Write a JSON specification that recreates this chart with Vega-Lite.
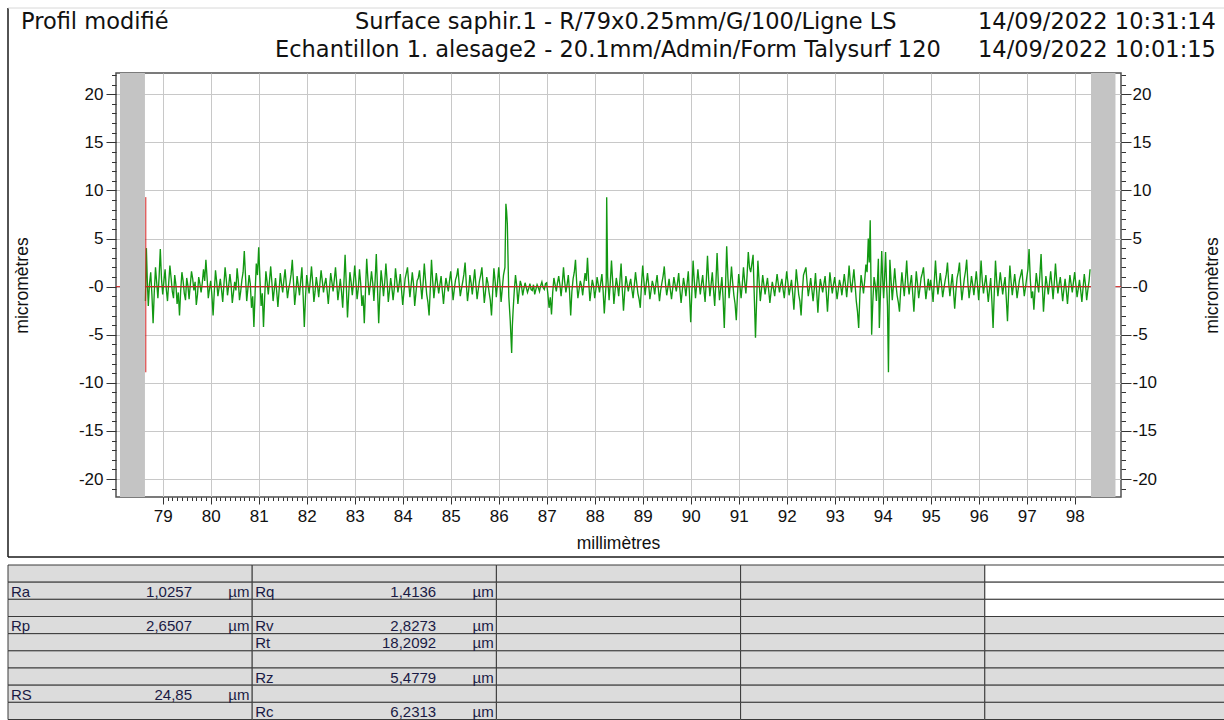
{
 "$schema": "https://vega.github.io/schema/vega-lite/v6.json",
 "width": 1005, "height": 424,
 "autosize": {"type": "none"},
 "padding": {"left": 116, "top": 73, "right": 103, "bottom": 223},
 "background": "white",
 "config": {
  "view": {"stroke": "#505050", "strokeWidth": 1.5},
  "font": "Liberation Sans",
  "axis": {"labelFont": "Liberation Sans", "titleFont": "Liberation Sans", "labelColor": "#111111", "titleColor": "#111111", "tickColor": "#333333", "titleFontWeight": "normal", "domain": false}
 },
 "datasets": {
  "profile": [
   {"x":78.64,"y":-1.5},{"x":78.66,"y":4.0},{"x":78.68,"y":0.5},{"x":78.70,"y":-2.0},{"x":78.725,"y":0.3},{"x":78.75,"y":1.5},{"x":78.775,"y":-0.8},{"x":78.80,"y":-3.8},{"x":78.825,"y":-0.5},{"x":78.85,"y":2.0},{"x":78.875,"y":0.4},{"x":78.90,"y":-1.2},{"x":78.925,"y":1.0},{"x":78.95,"y":3.9},{"x":78.975,"y":0.8},
   {"x":79.00,"y":-0.8},{"x":79.025,"y":0.6},{"x":79.05,"y":1.8},{"x":79.075,"y":-0.3},{"x":79.10,"y":-1.5},{"x":79.125,"y":0.4},{"x":79.15,"y":2.2},{"x":79.175,"y":0.9},{"x":79.20,"y":-0.5},{"x":79.225,"y":-1.2},{"x":79.25,"y":1.2},{"x":79.275,"y":0.2},{"x":79.30,"y":-1.8},{"x":79.325,"y":-0.6},{"x":79.35,"y":-3.0},{"x":79.375,"y":-0.4},{"x":79.40,"y":1.5},{"x":79.425,"y":0.6},{"x":79.45,"y":-0.7},{"x":79.475,"y":-1.4},{"x":79.50,"y":0.9},{"x":79.525,"y":0.1},{"x":79.55,"y":-1.3},{"x":79.575,"y":0.2},{"x":79.60,"y":1.6},{"x":79.625,"y":0.8},{"x":79.65,"y":-0.4},{"x":79.675,"y":0.5},{"x":79.70,"y":-1.9},{"x":79.725,"y":-0.8},{"x":79.75,"y":1.0},{"x":79.775,"y":0.3},{"x":79.80,"y":-0.6},{"x":79.825,"y":0.4},{"x":79.85,"y":1.8},{"x":79.875,"y":0.6},{"x":79.90,"y":2.8},{"x":79.925,"y":0.9},{"x":79.95,"y":-1.2},{"x":79.975,"y":-0.2},
   {"x":80.00,"y":0.6},{"x":80.025,"y":-0.9},{"x":80.05,"y":-3.0},{"x":80.075,"y":-0.5},{"x":80.10,"y":1.7},{"x":80.125,"y":0.5},{"x":80.15,"y":-1.0},{"x":80.175,"y":-0.1},{"x":80.20,"y":0.8},{"x":80.225,"y":-0.3},{"x":80.25,"y":-1.6},{"x":80.275,"y":0.2},{"x":80.30,"y":2.0},{"x":80.325,"y":0.7},{"x":80.35,"y":-0.9},{"x":80.375,"y":0.1},{"x":80.40,"y":1.3},{"x":80.425,"y":0.2},{"x":80.45,"y":-1.7},{"x":80.475,"y":-0.6},{"x":80.50,"y":0.5},{"x":80.525,"y":-0.4},{"x":80.55,"y":1.9},{"x":80.575,"y":0.6},{"x":80.60,"y":-1.4},{"x":80.625,"y":-0.5},{"x":80.65,"y":0.7},{"x":80.675,"y":1.5},{"x":80.70,"y":3.7},{"x":80.725,"y":1.1},{"x":80.75,"y":-1.5},{"x":80.775,"y":-0.2},{"x":80.80,"y":1.2},{"x":80.825,"y":0.3},{"x":80.85,"y":-2.2},{"x":80.875,"y":-1.0},{"x":80.90,"y":-4.2},{"x":80.925,"y":-0.6},{"x":80.95,"y":2.4},{"x":80.975,"y":1.2},
   {"x":81.00,"y":4.1},{"x":81.025,"y":0.9},{"x":81.05,"y":-2.0},{"x":81.075,"y":-0.7},{"x":81.10,"y":-4.2},{"x":81.125,"y":-1.0},{"x":81.15,"y":1.6},{"x":81.175,"y":0.5},{"x":81.20,"y":-0.8},{"x":81.225,"y":0.6},{"x":81.25,"y":2.1},{"x":81.275,"y":0.4},{"x":81.30,"y":-1.5},{"x":81.325,"y":-0.3},{"x":81.35,"y":0.9},{"x":81.375,"y":-0.5},{"x":81.40,"y":-2.1},{"x":81.425,"y":-0.4},{"x":81.45,"y":1.4},{"x":81.475,"y":0.3},{"x":81.50,"y":-0.6},{"x":81.525,"y":0.7},{"x":81.55,"y":1.8},{"x":81.575,"y":0.2},{"x":81.60,"y":-1.2},{"x":81.625,"y":-0.2},{"x":81.65,"y":0.4},{"x":81.675,"y":1.3},{"x":81.70,"y":2.8},{"x":81.725,"y":0.5},{"x":81.75,"y":-1.9},{"x":81.775,"y":-0.6},{"x":81.80,"y":1.1},{"x":81.825,"y":0.1},{"x":81.85,"y":-0.9},{"x":81.875,"y":0.6},{"x":81.90,"y":2.0},{"x":81.925,"y":-0.8},{"x":81.95,"y":-4.2},{"x":81.975,"y":-1.1},
   {"x":82.00,"y":1.2},{"x":82.025,"y":0.2},{"x":82.05,"y":-0.7},{"x":82.075,"y":0.6},{"x":82.10,"y":2.1},{"x":82.125,"y":0.4},{"x":82.15,"y":-1.6},{"x":82.175,"y":-0.5},{"x":82.20,"y":1.0},{"x":82.225,"y":0.1},{"x":82.25,"y":-1.1},{"x":82.275,"y":0.3},{"x":82.30,"y":1.7},{"x":82.325,"y":0.6},{"x":82.35,"y":-0.6},{"x":82.375,"y":0.3},{"x":82.40,"y":0.9},{"x":82.425,"y":-0.4},{"x":82.45,"y":-1.8},{"x":82.475,"y":-0.2},{"x":82.50,"y":1.4},{"x":82.525,"y":0.5},{"x":82.55,"y":-0.5},{"x":82.575,"y":0.7},{"x":82.60,"y":2.0},{"x":82.625,"y":0.4},{"x":82.65,"y":-1.4},{"x":82.675,"y":-0.3},{"x":82.70,"y":0.8},{"x":82.725,"y":-0.5},{"x":82.75,"y":-2.2},{"x":82.775,"y":0.4},{"x":82.80,"y":3.3},{"x":82.825,"y":0.2},{"x":82.85,"y":-3.2},{"x":82.875,"y":-0.8},{"x":82.90,"y":1.5},{"x":82.925,"y":0.5},{"x":82.95,"y":-0.9},{"x":82.975,"y":0.4},
   {"x":83.00,"y":2.2},{"x":83.025,"y":0.5},{"x":83.05,"y":-1.3},{"x":83.075,"y":-0.2},{"x":83.10,"y":1.8},{"x":83.125,"y":0.3},{"x":83.15,"y":-2.0},{"x":83.175,"y":-0.9},{"x":83.20,"y":-3.8},{"x":83.225,"y":-0.4},{"x":83.25,"y":2.9},{"x":83.275,"y":0.8},{"x":83.30,"y":-0.9},{"x":83.325,"y":0.2},{"x":83.35,"y":1.6},{"x":83.375,"y":0.4},{"x":83.40,"y":-1.5},{"x":83.425,"y":0.6},{"x":83.45,"y":3.4},{"x":83.475,"y":-0.2},{"x":83.50,"y":-3.8},{"x":83.525,"y":-0.7},{"x":83.55,"y":1.7},{"x":83.575,"y":0.5},{"x":83.60,"y":-1.0},{"x":83.625,"y":0.4},{"x":83.65,"y":2.4},{"x":83.675,"y":0.6},{"x":83.70,"y":-1.6},{"x":83.725,"y":-0.4},{"x":83.75,"y":0.9},{"x":83.775,"y":-0.1},{"x":83.80,"y":-1.4},{"x":83.825,"y":-0.2},{"x":83.85,"y":1.9},{"x":83.875,"y":0.7},{"x":83.90,"y":-0.6},{"x":83.925,"y":0.2},{"x":83.95,"y":1.3},{"x":83.975,"y":-0.3},
   {"x":84.00,"y":-1.9},{"x":84.025,"y":-0.6},{"x":84.05,"y":0.8},{"x":84.075,"y":1.4},{"x":84.10,"y":2.0},{"x":84.125,"y":0.4},{"x":84.15,"y":-1.1},{"x":84.175,"y":0.1},{"x":84.20,"y":1.5},{"x":84.225,"y":0.3},{"x":84.25,"y":-2.0},{"x":84.275,"y":-0.7},{"x":84.30,"y":0.6},{"x":84.325,"y":0.9},{"x":84.35,"y":1.7},{"x":84.375,"y":0.2},{"x":84.40,"y":-1.3},{"x":84.425,"y":0.3},{"x":84.45,"y":2.4},{"x":84.475,"y":0.7},{"x":84.50,"y":-0.8},{"x":84.525,"y":-1.6},{"x":84.55,"y":-3.0},{"x":84.575,"y":-0.2},{"x":84.60,"y":2.8},{"x":84.625,"y":0.6},{"x":84.65,"y":-1.2},{"x":84.675,"y":0.1},{"x":84.70,"y":1.4},{"x":84.725,"y":0.3},{"x":84.75,"y":-0.7},{"x":84.775,"y":0.2},{"x":84.80,"y":1.1},{"x":84.825,"y":-0.4},{"x":84.85,"y":-1.8},{"x":84.875,"y":-0.3},{"x":84.90,"y":0.9},{"x":84.925,"y":0.2},{"x":84.95,"y":-0.5},{"x":84.975,"y":0.6},
   {"x":85.00,"y":1.6},{"x":85.025,"y":0.2},{"x":85.05,"y":-1.4},{"x":85.075,"y":-0.3},{"x":85.10,"y":0.7},{"x":85.125,"y":1.1},{"x":85.15,"y":1.9},{"x":85.175,"y":0.4},{"x":85.20,"y":-1.0},{"x":85.225,"y":-0.2},{"x":85.25,"y":0.5},{"x":85.275,"y":1.3},{"x":85.30,"y":2.5},{"x":85.325,"y":0.3},{"x":85.35,"y":-1.5},{"x":85.375,"y":-0.4},{"x":85.40,"y":1.2},{"x":85.425,"y":0.4},{"x":85.45,"y":-0.8},{"x":85.475,"y":0.5},{"x":85.50,"y":1.8},{"x":85.525,"y":0.2},{"x":85.55,"y":-1.3},{"x":85.575,"y":-0.3},{"x":85.60,"y":0.6},{"x":85.625,"y":1.2},{"x":85.65,"y":2.0},{"x":85.675,"y":0.2},{"x":85.70,"y":-1.7},{"x":85.725,"y":-0.5},{"x":85.75,"y":1.0},{"x":85.775,"y":0.4},{"x":85.80,"y":-0.6},{"x":85.825,"y":-1.4},{"x":85.85,"y":-3.0},{"x":85.875,"y":-0.5},{"x":85.90,"y":1.9},{"x":85.925,"y":0.6},{"x":85.95,"y":-1.1},{"x":85.975,"y":0.3},
   {"x":86.00,"y":2.0},{"x":86.025,"y":0.4},{"x":86.05,"y":-1.6},{"x":86.075,"y":-0.2},{"x":86.10,"y":1.2},{"x":86.13,"y":2.0},{"x":86.15,"y":8.6},{"x":86.165,"y":7.8},{"x":86.18,"y":6.5},{"x":86.21,"y":-1.0},{"x":86.24,"y":-3.5},{"x":86.27,"y":-6.9},{"x":86.285,"y":-4.0},{"x":86.30,"y":-2.5},{"x":86.325,"y":-0.4},{"x":86.35,"y":1.2},{"x":86.375,"y":0.1},{"x":86.40,"y":-1.8},{"x":86.425,"y":-0.5},{"x":86.45,"y":0.6},{"x":86.475,"y":0.1},{"x":86.50,"y":-0.9},{"x":86.525,"y":-0.2},{"x":86.55,"y":0.4},{"x":86.575,"y":-0.1},{"x":86.60,"y":-0.6},{"x":86.625,"y":-0.2},{"x":86.65,"y":0.3},{"x":86.675,"y":-0.3},{"x":86.70,"y":-0.4},{"x":86.725,"y":0.2},{"x":86.75,"y":-0.8},{"x":86.775,"y":-0.3},{"x":86.80,"y":0.2},{"x":86.825,"y":-0.1},{"x":86.85,"y":-0.5},{"x":86.875,"y":0.1},{"x":86.90,"y":0.5},{"x":86.925,"y":-0.1},{"x":86.95,"y":-0.3},{"x":86.975,"y":0.3},
   {"x":87.00,"y":0.4},{"x":87.025,"y":-0.8},{"x":87.05,"y":-2.2},{"x":87.075,"y":-1.1},{"x":87.10,"y":-2.9},{"x":87.125,"y":-0.6},{"x":87.15,"y":0.9},{"x":87.175,"y":0.2},{"x":87.20,"y":-0.5},{"x":87.225,"y":0.4},{"x":87.25,"y":1.1},{"x":87.275,"y":0.2},{"x":87.30,"y":-1.0},{"x":87.325,"y":0.3},{"x":87.35,"y":2.0},{"x":87.375,"y":0.5},{"x":87.40,"y":-0.6},{"x":87.425,"y":0.2},{"x":87.45,"y":1.2},{"x":87.475,"y":-0.4},{"x":87.50,"y":-3.0},{"x":87.525,"y":-0.5},{"x":87.55,"y":0.8},{"x":87.575,"y":1.5},{"x":87.60,"y":2.8},{"x":87.625,"y":0.4},{"x":87.65,"y":-1.2},{"x":87.675,"y":-0.3},{"x":87.70,"y":0.6},{"x":87.725,"y":0.1},{"x":87.75,"y":-0.9},{"x":87.775,"y":0.3},{"x":87.80,"y":1.4},{"x":87.825,"y":0.6},{"x":87.85,"y":3.0},{"x":87.875,"y":0.5},{"x":87.90,"y":-1.5},{"x":87.925,"y":-0.4},{"x":87.95,"y":0.7},{"x":87.975,"y":0.1},
   {"x":88.00,"y":-1.2},{"x":88.025,"y":-0.3},{"x":88.05,"y":1.0},{"x":88.075,"y":0.2},{"x":88.10,"y":-0.6},{"x":88.125,"y":0.4},{"x":88.15,"y":1.3},{"x":88.175,"y":-0.4},{"x":88.20,"y":-2.8},{"x":88.24,"y":0.5},{"x":88.25,"y":9.3},{"x":88.27,"y":1.0},{"x":88.30,"y":-1.4},{"x":88.325,"y":0.4},{"x":88.35,"y":2.7},{"x":88.375,"y":0.5},{"x":88.40,"y":-1.8},{"x":88.425,"y":-0.4},{"x":88.45,"y":0.9},{"x":88.475,"y":0.1},{"x":88.50,"y":-1.0},{"x":88.525,"y":0.6},{"x":88.55,"y":2.4},{"x":88.575,"y":-0.3},{"x":88.60,"y":-2.5},{"x":88.625,"y":-0.6},{"x":88.65,"y":1.1},{"x":88.675,"y":0.3},{"x":88.70,"y":-0.5},{"x":88.725,"y":0.2},{"x":88.75,"y":0.8},{"x":88.775,"y":-0.3},{"x":88.80,"y":-1.2},{"x":88.825,"y":0.1},{"x":88.85,"y":1.5},{"x":88.875,"y":0.4},{"x":88.90,"y":-0.7},{"x":88.925,"y":-1.3},{"x":88.95,"y":-2.2},{"x":88.975,"y":0.2},
   {"x":89.00,"y":2.2},{"x":89.025,"y":0.6},{"x":89.05,"y":-0.9},{"x":89.075,"y":0.3},{"x":89.10,"y":1.4},{"x":89.125,"y":0.2},{"x":89.15,"y":-1.3},{"x":89.175,"y":-0.4},{"x":89.20,"y":0.6},{"x":89.225,"y":0.1},{"x":89.25,"y":-0.8},{"x":89.275,"y":0.3},{"x":89.30,"y":1.2},{"x":89.325,"y":-0.2},{"x":89.35,"y":-1.5},{"x":89.375,"y":-0.4},{"x":89.40,"y":0.4},{"x":89.425,"y":1.1},{"x":89.45,"y":2.1},{"x":89.475,"y":0.3},{"x":89.50,"y":-0.9},{"x":89.525,"y":-0.1},{"x":89.55,"y":0.8},{"x":89.575,"y":-0.3},{"x":89.60,"y":-1.3},{"x":89.625,"y":-0.2},{"x":89.65,"y":1.0},{"x":89.675,"y":0.2},{"x":89.70,"y":-0.5},{"x":89.725,"y":0.4},{"x":89.75,"y":1.4},{"x":89.775,"y":-0.3},{"x":89.80,"y":-1.7},{"x":89.825,"y":-0.4},{"x":89.85,"y":0.9},{"x":89.875,"y":0.1},{"x":89.90,"y":-1.0},{"x":89.925,"y":0.3},{"x":89.95,"y":1.6},{"x":89.975,"y":-0.8},
   {"x":90.00,"y":-3.7},{"x":90.025,"y":-0.5},{"x":90.05,"y":2.7},{"x":90.075,"y":0.6},{"x":90.10,"y":-1.2},{"x":90.125,"y":0.2},{"x":90.15,"y":1.8},{"x":90.175,"y":0.4},{"x":90.20,"y":-0.8},{"x":90.225,"y":0.3},{"x":90.25,"y":1.2},{"x":90.275,"y":-0.3},{"x":90.30,"y":-1.6},{"x":90.325,"y":0.6},{"x":90.35,"y":3.2},{"x":90.375,"y":0.7},{"x":90.40,"y":-1.0},{"x":90.425,"y":0.2},{"x":90.45,"y":1.5},{"x":90.475,"y":-0.3},{"x":90.50,"y":-2.0},{"x":90.525,"y":0.4},{"x":90.55,"y":3.5},{"x":90.575,"y":0.5},{"x":90.60,"y":-1.4},{"x":90.625,"y":-0.2},{"x":90.65,"y":1.0},{"x":90.675,"y":-1.2},{"x":90.70,"y":-4.3},{"x":90.725,"y":-0.1},{"x":90.75,"y":4.2},{"x":90.775,"y":1.0},{"x":90.80,"y":-1.2},{"x":90.825,"y":0.3},{"x":90.85,"y":2.1},{"x":90.875,"y":0.4},{"x":90.90,"y":-0.9},{"x":90.925,"y":-1.8},{"x":90.95,"y":-3.5},{"x":90.975,"y":-0.8},
   {"x":91.00,"y":1.3},{"x":91.025,"y":0.1},{"x":91.05,"y":-1.2},{"x":91.075,"y":0.2},{"x":91.10,"y":2.0},{"x":91.125,"y":0.5},{"x":91.15,"y":-0.7},{"x":91.175,"y":1.2},{"x":91.20,"y":3.6},{"x":91.225,"y":2.0},{"x":91.25,"y":1.5},{"x":91.275,"y":2.4},{"x":91.30,"y":3.3},{"x":91.325,"y":-1.0},{"x":91.35,"y":-5.3},{"x":91.375,"y":-1.2},{"x":91.40,"y":2.7},{"x":91.425,"y":0.6},{"x":91.45,"y":-1.5},{"x":91.475,"y":-0.3},{"x":91.50,"y":1.2},{"x":91.525,"y":0.2},{"x":91.55,"y":-0.8},{"x":91.575,"y":0.1},{"x":91.60,"y":0.9},{"x":91.625,"y":-0.4},{"x":91.65,"y":-1.7},{"x":91.675,"y":-0.5},{"x":91.70,"y":0.5},{"x":91.725,"y":-0.2},{"x":91.75,"y":-1.0},{"x":91.775,"y":0.2},{"x":91.80,"y":1.3},{"x":91.825,"y":0.3},{"x":91.85,"y":-0.6},{"x":91.875,"y":0.2},{"x":91.90,"y":0.8},{"x":91.925,"y":-0.3},{"x":91.95,"y":-1.2},{"x":91.975,"y":0.3},
   {"x":92.00,"y":1.6},{"x":92.025,"y":0.4},{"x":92.05,"y":-0.9},{"x":92.075,"y":-0.1},{"x":92.10,"y":0.7},{"x":92.125,"y":-0.7},{"x":92.15,"y":-2.4},{"x":92.175,"y":-0.3},{"x":92.20,"y":1.8},{"x":92.225,"y":0.5},{"x":92.25,"y":-0.8},{"x":92.275,"y":-1.5},{"x":92.30,"y":-3.0},{"x":92.325,"y":-0.6},{"x":92.35,"y":1.2},{"x":92.375,"y":1.6},{"x":92.40,"y":2.0},{"x":92.425,"y":0.4},{"x":92.45,"y":-1.0},{"x":92.475,"y":-0.1},{"x":92.50,"y":0.9},{"x":92.525,"y":-0.3},{"x":92.55,"y":-1.5},{"x":92.575,"y":-0.2},{"x":92.60,"y":1.4},{"x":92.625,"y":-0.5},{"x":92.65,"y":-2.7},{"x":92.675,"y":-0.6},{"x":92.70,"y":0.8},{"x":92.725,"y":0.1},{"x":92.75,"y":-0.6},{"x":92.775,"y":0.3},{"x":92.80,"y":1.1},{"x":92.825,"y":-0.6},{"x":92.85,"y":-2.6},{"x":92.875,"y":-0.4},{"x":92.90,"y":1.5},{"x":92.925,"y":0.3},{"x":92.95,"y":-0.7},{"x":92.975,"y":0.2},
   {"x":93.00,"y":1.0},{"x":93.025,"y":-0.1},{"x":93.05,"y":-1.3},{"x":93.075,"y":-0.3},{"x":93.10,"y":0.7},{"x":93.125,"y":0.1},{"x":93.15,"y":-0.9},{"x":93.175,"y":0.2},{"x":93.20,"y":1.3},{"x":93.225,"y":0.2},{"x":93.25,"y":-1.1},{"x":93.275,"y":0.4},{"x":93.30,"y":2.2},{"x":93.325,"y":0.5},{"x":93.35,"y":-0.6},{"x":93.375,"y":0.6},{"x":93.40,"y":1.8},{"x":93.425,"y":0.2},{"x":93.45,"y":-1.5},{"x":93.475,"y":-2.6},{"x":93.50,"y":-4.3},{"x":93.525,"y":-0.8},{"x":93.55,"y":1.2},{"x":93.575,"y":0.3},{"x":93.60,"y":-0.7},{"x":93.625,"y":0.6},{"x":93.65,"y":2.3},{"x":93.675,"y":1.5},{"x":93.70,"y":5.0},{"x":93.72,"y":2.5},{"x":93.74,"y":6.9},{"x":93.755,"y":1.0},{"x":93.77,"y":-5.0},{"x":93.795,"y":-1.5},{"x":93.82,"y":1.0},{"x":93.845,"y":0.2},{"x":93.87,"y":-1.5},{"x":93.89,"y":0.4},{"x":93.91,"y":2.9},{"x":93.93,"y":-4.3},{"x":93.955,"y":-0.5},{"x":93.98,"y":3.7},{"x":94.00,"y":0.8},
   {"x":94.02,"y":-1.2},{"x":94.04,"y":1.0},{"x":94.06,"y":3.6},{"x":94.08,"y":0.5},{"x":94.10,"y":-2.0},{"x":94.12,"y":-8.9},{"x":94.135,"y":-2.0},{"x":94.15,"y":2.8},{"x":94.175,"y":0.6},{"x":94.20,"y":-1.4},{"x":94.225,"y":0.2},{"x":94.25,"y":1.9},{"x":94.275,"y":0.3},{"x":94.30,"y":-0.9},{"x":94.325,"y":-1.6},{"x":94.35,"y":-2.6},{"x":94.375,"y":-0.3},{"x":94.40,"y":1.5},{"x":94.425,"y":0.2},{"x":94.45,"y":-1.0},{"x":94.475,"y":0.8},{"x":94.50,"y":2.7},{"x":94.525,"y":0.4},{"x":94.55,"y":-0.8},{"x":94.575,"y":0.3},{"x":94.60,"y":1.2},{"x":94.625,"y":-0.7},{"x":94.65,"y":-2.6},{"x":94.675,"y":-0.4},{"x":94.70,"y":1.6},{"x":94.725,"y":0.3},{"x":94.75,"y":-1.2},{"x":94.775,"y":-0.2},{"x":94.80,"y":0.9},{"x":94.825,"y":1.4},{"x":94.85,"y":2.0},{"x":94.875,"y":0.2},{"x":94.90,"y":-1.3},{"x":94.925,"y":-0.2},{"x":94.95,"y":0.8},{"x":94.975,"y":-0.4},
   {"x":95.00,"y":0.7},{"x":95.025,"y":-0.3},{"x":95.05,"y":-1.6},{"x":95.075,"y":0.5},{"x":95.10,"y":2.7},{"x":95.125,"y":0.6},{"x":95.15,"y":-0.8},{"x":95.175,"y":0.2},{"x":95.20,"y":1.4},{"x":95.225,"y":0.3},{"x":95.25,"y":-1.1},{"x":95.275,"y":-0.2},{"x":95.30,"y":0.6},{"x":95.325,"y":1.3},{"x":95.35,"y":2.5},{"x":95.375,"y":0.4},{"x":95.40,"y":-1.0},{"x":95.425,"y":0.2},{"x":95.45,"y":1.3},{"x":95.475,"y":-0.4},{"x":95.50,"y":-2.3},{"x":95.525,"y":-0.5},{"x":95.55,"y":0.9},{"x":95.575,"y":1.5},{"x":95.60,"y":2.5},{"x":95.625,"y":0.3},{"x":95.65,"y":-1.4},{"x":95.675,"y":-0.3},{"x":95.70,"y":0.8},{"x":95.725,"y":1.6},{"x":95.75,"y":2.8},{"x":95.775,"y":0.4},{"x":95.80,"y":-1.2},{"x":95.825,"y":-0.1},{"x":95.85,"y":1.1},{"x":95.875,"y":0.2},{"x":95.90,"y":-0.9},{"x":95.925,"y":0.3},{"x":95.95,"y":1.6},{"x":95.975,"y":0.2},
   {"x":96.00,"y":-1.4},{"x":96.025,"y":0.4},{"x":96.05,"y":2.7},{"x":96.075,"y":0.6},{"x":96.10,"y":-0.7},{"x":96.125,"y":0.3},{"x":96.15,"y":1.2},{"x":96.175,"y":-0.2},{"x":96.20,"y":-1.6},{"x":96.225,"y":-0.3},{"x":96.25,"y":0.9},{"x":96.275,"y":-1.5},{"x":96.30,"y":-4.3},{"x":96.325,"y":-0.6},{"x":96.35,"y":2.7},{"x":96.375,"y":0.6},{"x":96.40,"y":-1.0},{"x":96.425,"y":0.2},{"x":96.45,"y":1.5},{"x":96.475,"y":0.3},{"x":96.50,"y":-0.8},{"x":96.525,"y":0.2},{"x":96.55,"y":1.0},{"x":96.575,"y":-1.2},{"x":96.60,"y":-3.6},{"x":96.625,"y":-0.4},{"x":96.65,"y":2.2},{"x":96.675,"y":0.5},{"x":96.70,"y":-0.9},{"x":96.725,"y":0.2},{"x":96.75,"y":1.3},{"x":96.775,"y":0.1},{"x":96.80,"y":-1.2},{"x":96.825,"y":-0.2},{"x":96.85,"y":0.7},{"x":96.875,"y":1.2},{"x":96.90,"y":1.8},{"x":96.925,"y":0.3},{"x":96.95,"y":-1.0},{"x":96.975,"y":-0.1},
   {"x":97.00,"y":0.9},{"x":97.025,"y":1.8},{"x":97.05,"y":3.9},{"x":97.075,"y":0.8},{"x":97.10,"y":-1.2},{"x":97.125,"y":-0.5},{"x":97.15,"y":-2.4},{"x":97.175,"y":-0.3},{"x":97.20,"y":1.4},{"x":97.225,"y":0.3},{"x":97.25,"y":-0.6},{"x":97.275,"y":1.2},{"x":97.30,"y":3.4},{"x":97.325,"y":0.2},{"x":97.35,"y":-2.6},{"x":97.375,"y":-0.6},{"x":97.40,"y":1.1},{"x":97.425,"y":0.2},{"x":97.45,"y":-0.8},{"x":97.475,"y":0.3},{"x":97.50,"y":1.6},{"x":97.525,"y":0.2},{"x":97.55,"y":-1.3},{"x":97.575,"y":0.4},{"x":97.60,"y":2.4},{"x":97.625,"y":0.6},{"x":97.65,"y":-0.7},{"x":97.675,"y":0.2},{"x":97.70,"y":1.0},{"x":97.725,"y":-0.2},{"x":97.75,"y":-1.5},{"x":97.775,"y":-0.3},{"x":97.80,"y":0.8},{"x":97.825,"y":-0.4},{"x":97.85,"y":-1.8},{"x":97.875,"y":-0.2},{"x":97.90,"y":1.2},{"x":97.925,"y":0.3},{"x":97.95,"y":-0.6},{"x":97.975,"y":0.5},
   {"x":98.00,"y":1.5},{"x":98.025,"y":0.2},{"x":98.05,"y":-1.1},{"x":98.075,"y":-0.2},{"x":98.10,"y":0.7},{"x":98.125,"y":-0.4},{"x":98.15,"y":-1.6},{"x":98.175,"y":-0.1},{"x":98.20,"y":1.3},{"x":98.225,"y":0.2},{"x":98.25,"y":-1.4},{"x":98.275,"y":-0.3},{"x":98.30,"y":0.6},{"x":98.32,"y":1.8}
  ],
  "hatch": [{"x1": 78.11, "x2": 78.63}, {"x1": 98.34, "x2": 98.85}],
  "header": [
   {"t": "Profil modifié", "s": 0, "l": 1},
   {"t": "Surface saphir.1 - R/79x0.25mm/G/100/Ligne LS", "s": 1, "l": 1},
   {"t": "Echantillon 1. alesage2 - 20.1mm/Admin/Form Talysurf 120", "s": 2, "l": 2},
   {"t": "14/09/2022 10:31:14", "s": 3, "l": 1},
   {"t": "14/09/2022 10:01:15", "s": 3, "l": 2}
  ],
  "cells": [
   {"r":0,"c":0},{"r":0,"c":1},{"r":0,"c":2},{"r":0,"c":3},{"r":0,"c":4},
   {"r":1,"c":0},{"r":1,"c":1},{"r":1,"c":2},{"r":1,"c":3},{"r":1,"c":4},
   {"r":2,"c":0},{"r":2,"c":1},{"r":2,"c":2},{"r":2,"c":3},{"r":2,"c":4},
   {"r":3,"c":0},{"r":3,"c":1},{"r":3,"c":2},{"r":3,"c":3},{"r":3,"c":4},
   {"r":4,"c":0},{"r":4,"c":1},{"r":4,"c":2},{"r":4,"c":3},{"r":4,"c":4},
   {"r":5,"c":0},{"r":5,"c":1},{"r":5,"c":2},{"r":5,"c":3},{"r":5,"c":4},
   {"r":6,"c":0},{"r":6,"c":1},{"r":6,"c":2},{"r":6,"c":3},{"r":6,"c":4},
   {"r":7,"c":0},{"r":7,"c":1},{"r":7,"c":2},{"r":7,"c":3},{"r":7,"c":4},
   {"r":8,"c":0},{"r":8,"c":1},{"r":8,"c":2},{"r":8,"c":3},{"r":8,"c":4}
  ],
  "metrics": [
   {"r":1,"c":0,"k":"Ra","v":"1,0257","u":"µm"},
   {"r":1,"c":1,"k":"Rq","v":"1,4136","u":"µm"},
   {"r":3,"c":0,"k":"Rp","v":"2,6507","u":"µm"},
   {"r":3,"c":1,"k":"Rv","v":"2,8273","u":"µm"},
   {"r":4,"c":1,"k":"Rt","v":"18,2092","u":"µm"},
   {"r":6,"c":1,"k":"Rz","v":"5,4779","u":"µm"},
   {"r":7,"c":0,"k":"RS","v":"24,85\u2007\u2007","u":"µm"},
   {"r":8,"c":1,"k":"Rc","v":"6,2313","u":"µm"}
  ]
 },
 "layer": [
  {
   "data": {"values": [{}]},
   "mark": {"type": "rule", "color": "#d42020", "strokeWidth": 1},
   "encoding": {
    "x": {"datum": 78.027, "type": "quantitative", "scale": {"domain": [78.027, 98.965], "nice": false, "zero": false},
     "axis": {"orient": "bottom", "values": [79,80,81,82,83,84,85,86,87,88,89,90,91,92,93,94,95,96,97,98], "format": "d", "tickSize": 7, "labelFontSize": 17, "labelPadding": 4, "labelFlush": false, "labelOverlap": false, "grid": true, "gridColor": "#c8c8c8", "gridWidth": 1, "title": "millimètres", "titleFontSize": 17.5, "titleX": 502, "titleY": 46, "titleBaseline": "middle", "titleAlign": "center"}},
    "x2": {"datum": 98.965},
    "y": {"datum": 0, "type": "quantitative", "scale": {"domain": [-21.86, 22.2], "nice": false, "zero": false},
     "axis": {"orient": "left", "values": [-20,-15,-10,-5,0,5,10,15,20], "tickSize": 10, "labelFontSize": 17, "labelPadding": 3, "labelOverlap": false, "grid": true, "gridColor": "#c8c8c8", "gridWidth": 1, "labelExpr": "datum.value == 0 ? '-0' : (datum.value < 0 ? '-' + abs(datum.value) : '' + datum.value)", "title": "micromètres", "titleFontSize": 17.5, "titleX": -94, "titleY": 212, "titleAngle": -90, "titleBaseline": "middle", "titleAlign": "center"}}
   }
  },
  {
   "data": {"name": "hatch"},
   "mark": {"type": "rect", "color": "#c4c4c4"},
   "encoding": {
    "x": {"field": "x1", "type": "quantitative", "scale": {"domain": [78.027, 98.965], "nice": false, "zero": false},
     "axis": {"orient": "bottom", "values": [79,79.1,79.2,79.3,79.4,79.5,79.6,79.7,79.8,79.9,80,80.1,80.2,80.3,80.4,80.5,80.6,80.7,80.8,80.9,81,81.1,81.2,81.3,81.4,81.5,81.6,81.7,81.8,81.9,82,82.1,82.2,82.3,82.4,82.5,82.6,82.7,82.8,82.9,83,83.1,83.2,83.3,83.4,83.5,83.6,83.7,83.8,83.9,84,84.1,84.2,84.3,84.4,84.5,84.6,84.7,84.8,84.9,85,85.1,85.2,85.3,85.4,85.5,85.6,85.7,85.8,85.9,86,86.1,86.2,86.3,86.4,86.5,86.6,86.7,86.8,86.9,87,87.1,87.2,87.3,87.4,87.5,87.6,87.7,87.8,87.9,88,88.1,88.2,88.3,88.4,88.5,88.6,88.7,88.8,88.9,89,89.1,89.2,89.3,89.4,89.5,89.6,89.7,89.8,89.9,90,90.1,90.2,90.3,90.4,90.5,90.6,90.7,90.8,90.9,91,91.1,91.2,91.3,91.4,91.5,91.6,91.7,91.8,91.9,92,92.1,92.2,92.3,92.4,92.5,92.6,92.7,92.8,92.9,93,93.1,93.2,93.3,93.4,93.5,93.6,93.7,93.8,93.9,94,94.1,94.2,94.3,94.4,94.5,94.6,94.7,94.8,94.9,95,95.1,95.2,95.3,95.4,95.5,95.6,95.7,95.8,95.9,96,96.1,96.2,96.3,96.4,96.5,96.6,96.7,96.8,96.9,97,97.1,97.2,97.3,97.4,97.5,97.6,97.7,97.8,97.9,98], "tickSize": 3.5, "labels": false, "grid": false, "title": null}},
    "x2": {"field": "x2"}
   }
  },
  {
   "data": {"name": "profile"},
   "mark": {"type": "line", "color": "#129812", "strokeWidth": 1.35},
   "encoding": {
    "x": {"field": "x", "type": "quantitative", "scale": {"domain": [78.027, 98.965], "nice": false, "zero": false}, "axis": null},
    "y": {"field": "y", "type": "quantitative", "scale": {"domain": [-21.86, 22.2], "nice": false, "zero": false},
     "axis": {"orient": "left", "values": [-21,-20,-19,-18,-17,-16,-15,-14,-13,-12,-11,-10,-9,-8,-7,-6,-5,-4,-3,-2,-1,0,1,2,3,4,5,6,7,8,9,10,11,12,13,14,15,16,17,18,19,20,21,22], "tickSize": 4.5, "labels": false, "grid": false, "title": null}}
   }
  },
  {
   "data": {"values": [{}]},
   "mark": {"type": "rule", "color": "#d42020", "strokeWidth": 1},
   "encoding": {
    "x": {"datum": 78.645, "type": "quantitative", "scale": {"domain": [78.027, 98.965], "nice": false, "zero": false}, "axis": null},
    "x2": {"datum": 98.33},
    "y": {"datum": 0, "type": "quantitative", "scale": {"domain": [-21.86, 22.2], "nice": false, "zero": false},
     "axis": {"orient": "right", "values": [-20,-15,-10,-5,0,5,10,15,20], "tickSize": 10, "labelFontSize": 17, "labelPadding": 1, "labelOverlap": false, "grid": false, "labelExpr": "datum.value == 0 ? '-0' : (datum.value < 0 ? '-' + abs(datum.value) : '' + datum.value)", "title": "micromètres", "titleFontSize": 17.5, "titleX": 91, "titleY": 212, "titleAngle": -90, "titleBaseline": "middle", "titleAlign": "center"}}
   }
  },
  {
   "data": {"values": [{}]},
   "mark": {"type": "rule", "color": "#d42020", "strokeWidth": 1},
   "encoding": {
    "x": {"datum": 78.648, "type": "quantitative", "scale": {"domain": [78.027, 98.965], "nice": false, "zero": false}, "axis": null},
    "y": {"datum": -8.9, "type": "quantitative", "scale": {"domain": [-21.86, 22.2], "nice": false, "zero": false},
     "axis": {"orient": "right", "values": [-21,-20,-19,-18,-17,-16,-15,-14,-13,-12,-11,-10,-9,-8,-7,-6,-5,-4,-3,-2,-1,0,1,2,3,4,5,6,7,8,9,10,11,12,13,14,15,16,17,18,19,20,21,22], "tickSize": 4.5, "labels": false, "grid": false, "title": null}},
    "y2": {"datum": 9.3}
   }
  },
  {
   "data": {"name": "header"},
   "mark": {"type": "text", "font": "DejaVu Sans", "fontSize": 22.5, "align": "left", "baseline": "middle", "color": "#111111"},
   "encoding": {
    "x": {"field": "s", "type": "quantitative", "scale": {"domain": [0, 1, 2, 3], "range": [-95, 239, 159, 862], "nice": false, "zero": false}, "axis": null},
    "y": {"field": "l", "type": "quantitative", "scale": {"domain": [1, 2], "range": [-51, -23], "nice": false, "zero": false}, "axis": null},
    "text": {"field": "t"}
   }
  },
  {
   "layer": [
    {
     "data": {"name": "cells"},
     "mark": {"type": "rect", "stroke": "#3a3a3a", "strokeWidth": 1},
     "encoding": {
      "x": {"field": "c", "type": "ordinal", "scale": {"domain": [0,1,2,3,4], "range": [-108, 1113], "paddingInner": 0, "paddingOuter": 0}, "axis": null},
      "y": {"field": "r", "type": "ordinal", "scale": {"domain": [0,1,2,3,4,5,6,7,8], "range": [492, 646.5], "paddingInner": 0, "paddingOuter": 0}, "axis": null},
      "fill": {"condition": {"test": "datum.c == 4 && datum.r <= 2", "value": "#ffffff"}, "value": "#dcdcdc"}
     }
    },
    {
     "data": {"name": "metrics"},
     "mark": {"type": "text", "fontSize": 15, "align": "left", "baseline": "middle", "dx": 3, "dy": 1, "color": "#1a1a44"},
     "encoding": {
      "x": {"field": "c", "type": "ordinal", "bandPosition": 0, "scale": {"domain": [0,1,2,3,4], "range": [-108, 1113], "paddingInner": 0, "paddingOuter": 0}, "axis": null},
      "y": {"field": "r", "type": "ordinal", "scale": {"domain": [0,1,2,3,4,5,6,7,8], "range": [492, 646.5], "paddingInner": 0, "paddingOuter": 0}, "axis": null},
      "text": {"field": "k"}
     }
    },
    {
     "data": {"name": "metrics"},
     "mark": {"type": "text", "fontSize": 15, "align": "right", "baseline": "middle", "dx": 184, "dy": 1, "color": "#1a1a44"},
     "encoding": {
      "x": {"field": "c", "type": "ordinal", "bandPosition": 0, "scale": {"domain": [0,1,2,3,4], "range": [-108, 1113], "paddingInner": 0, "paddingOuter": 0}, "axis": null},
      "y": {"field": "r", "type": "ordinal", "scale": {"domain": [0,1,2,3,4,5,6,7,8], "range": [492, 646.5], "paddingInner": 0, "paddingOuter": 0}, "axis": null},
      "text": {"field": "v"}
     }
    },
    {
     "data": {"name": "metrics"},
     "mark": {"type": "text", "fontSize": 15, "align": "right", "baseline": "middle", "dx": 241.5, "dy": 1, "color": "#1a1a44"},
     "encoding": {
      "x": {"field": "c", "type": "ordinal", "bandPosition": 0, "scale": {"domain": [0,1,2,3,4], "range": [-108, 1113], "paddingInner": 0, "paddingOuter": 0}, "axis": null},
      "y": {"field": "r", "type": "ordinal", "scale": {"domain": [0,1,2,3,4,5,6,7,8], "range": [492, 646.5], "paddingInner": 0, "paddingOuter": 0}, "axis": null},
      "text": {"field": "u"}
     }
    }
   ]
  },
  {
   "data": {"values": [{}]},
   "layer": [
    {
     "mark": {"type": "rule", "color": "#1a1a1a", "strokeWidth": 1.5},
     "encoding": {
      "x": {"datum": 0, "type": "quantitative", "scale": {"domain": [0, 1], "range": [-108, 1110], "nice": false, "zero": false}, "axis": null},
      "y": {"datum": 0, "type": "quantitative", "scale": {"domain": [0, 1], "range": [-65, 484], "nice": false, "zero": false}, "axis": null},
      "y2": {"datum": 1}
     }
    },
    {
     "mark": {"type": "rule", "color": "#d8d8d8", "strokeWidth": 1},
     "encoding": {
      "x": {"datum": 0, "type": "quantitative", "scale": {"domain": [0, 1], "range": [-108, 1110], "nice": false, "zero": false}, "axis": null},
      "x2": {"datum": 1},
      "y": {"datum": 0, "type": "quantitative", "scale": {"domain": [0, 1], "range": [-65, 484], "nice": false, "zero": false}, "axis": null}
     }
    },
    {
     "mark": {"type": "rule", "color": "#1a1a1a", "strokeWidth": 1.5},
     "encoding": {
      "x": {"datum": 0, "type": "quantitative", "scale": {"domain": [0, 1], "range": [-108, 1110], "nice": false, "zero": false}, "axis": null},
      "x2": {"datum": 1},
      "y": {"datum": 1, "type": "quantitative", "scale": {"domain": [0, 1], "range": [-65, 484], "nice": false, "zero": false}, "axis": null}
     }
    }
   ]
  }
 ],
 "resolve": {"scale": {"x": "independent", "y": "independent"}}
}
